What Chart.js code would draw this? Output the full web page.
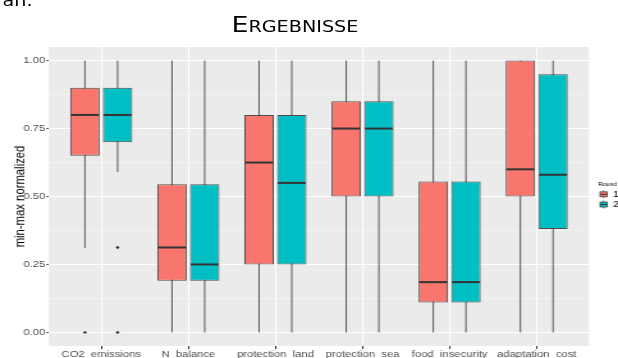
<!DOCTYPE html>
<html>
<head>
<meta charset="utf-8">
<script src="https://cdn.jsdelivr.net/npm/chart.js@4.4.1/dist/chart.umd.min.js"></script>
<style>
  html, body { margin: 0; padding: 0; background: #ffffff; overflow: hidden; }
  /* the slide is laid out narrow and widened horizontally as a whole */
  #page { position: absolute; left: 0; top: 0; width: 483px; height: 358px;
          transform: scaleX(1.2795); transform-origin: 0 0; }
  #lead { position: absolute; left: 2px; top: -6.5px; font: 15px/15px "DejaVu Sans", sans-serif;
          color: #000; white-space: nowrap; }
  #title { position: absolute; left: 130px; width: 201px; top: 14.5px; text-align: center;
           font: 21px/21px "DejaVu Sans", sans-serif; font-variant: small-caps; color: #000; }
  canvas { position: absolute; left: 0; top: 0; }
</style>
</head>
<body>
<div id="page">
  <div id="lead">an.</div>
  <div id="title">Ergebnisse</div>
  <canvas id="c" width="483" height="358"></canvas>
</div>
<script>
// Categories and five-number summaries per round
const categories = ['CO2  emissions', 'N  balance', 'protection  land', 'protection  sea', 'food  insecurity', 'adaptation  cost'];
const roundLabels = ['1', '2'];
const roundColors = ['#F8766D', '#00BFC4'];

const round1Min      = [0.31, 0.00, 0.00, 0.00, 0.00, 0.00];
const round1Q1       = [0.65, 0.19, 0.25, 0.50, 0.11, 0.50];
const round1Median   = [0.80, 0.3125, 0.625, 0.75, 0.185, 0.60];
const round1Q3       = [0.90, 0.545, 0.80, 0.85, 0.555, 1.00];
const round1Max      = [1.00, 1.00, 1.00, 1.00, 1.00, 1.00];
const round1Outliers = [[0.00], [], [], [], [], []];

const round2Min      = [0.59, 0.00, 0.00, 0.00, 0.00, 0.00];
const round2Q1       = [0.70, 0.19, 0.25, 0.50, 0.11, 0.38];
const round2Median   = [0.80, 0.25, 0.55, 0.75, 0.185, 0.58];
const round2Q3       = [0.90, 0.545, 0.80, 0.85, 0.555, 0.95];
const round2Max      = [1.00, 1.00, 1.00, 1.00, 1.00, 1.00];
const round2Outliers = [[0.3125, 0.00], [], [], [], [], []];

const yMajorTicks = [0, 0.25, 0.5, 0.75, 1];
const yTickLabels = ['0.00', '0.25', '0.50', '0.75', '1.00'];
const yMinorTicks = [0.125, 0.375, 0.625, 0.875];

const FONT = '"Liberation Sans", Arial, sans-serif';
const OUTLINE = 'rgba(51,51,51,0.85)';

function boxDataset(label, color, lo, q1, med, q3, hi, outliers) {
  return {
    label: label,
    backgroundColor: color,
    borderColor: OUTLINE,
    borderWidth: 1,
    borderSkipped: false,
    data: categories.map((_, i) => ({ x: i, y: [q1[i], q3[i]] })),
    whiskerLow: lo,
    whiskerHigh: hi,
    medians: med,
    outliers: outliers
  };
}

const isMajor = v => yMajorTicks.indexOf(v) >= 0;

// Panel background, whiskers, medians, outliers and the legend
const boxParts = {
  id: 'boxParts',
  beforeDraw(chart) {
    const { ctx, chartArea: a } = chart;
    ctx.save();
    ctx.fillStyle = '#EBEBEB';
    ctx.fillRect(a.left, a.top, a.right - a.left, a.bottom - a.top);
    ctx.restore();
  },
  beforeDatasetsDraw(chart) {
    const ctx = chart.ctx, ys = chart.scales.y;
    ctx.save();
    ctx.strokeStyle = 'rgba(51,51,51,0.8)';
    ctx.lineWidth = 1;
    chart.data.datasets.forEach((ds, d) => {
      chart.getDatasetMeta(d).data.forEach((el, i) => {
        ctx.beginPath();
        ctx.moveTo(el.x, ys.getPixelForValue(ds.whiskerLow[i]));
        ctx.lineTo(el.x, ys.getPixelForValue(ds.whiskerHigh[i]));
        ctx.stroke();
      });
    });
    ctx.restore();
  },
  afterDatasetsDraw(chart) {
    const ctx = chart.ctx, ys = chart.scales.y;
    ctx.save();
    chart.data.datasets.forEach((ds, d) => {
      chart.getDatasetMeta(d).data.forEach((el, i) => {
        const half = el.width / 2;
        const my = ys.getPixelForValue(ds.medians[i]);
        ctx.strokeStyle = '#333333';
        ctx.lineWidth = 2;
        ctx.beginPath();
        ctx.moveTo(el.x - half + 0.5, my);
        ctx.lineTo(el.x + half - 0.5, my);
        ctx.stroke();
        ctx.fillStyle = '#222222';
        ds.outliers[i].forEach(v => {
          ctx.beginPath();
          ctx.arc(el.x, ys.getPixelForValue(v), 1.2, 0, Math.PI * 2);
          ctx.fill();
        });
      });
    });
    ctx.restore();
  },
  afterDraw(chart) {
    const ctx = chart.ctx;
    ctx.save();
    ctx.textAlign = 'left';
    ctx.textBaseline = 'middle';
    ctx.fillStyle = '#000000';
    ctx.font = '5px ' + FONT;
    ctx.fillText('Round', 467.4, 184.4);
    chart.data.datasets.forEach((ds, k) => {
      const cy = 194.3 + 10.2 * k;
      const x0 = 469, x1 = 474.5, xm = (x0 + x1) / 2;
      ctx.strokeStyle = OUTLINE;
      ctx.lineWidth = 0.8;
      ctx.beginPath();
      ctx.moveTo(xm, cy - 4); ctx.lineTo(xm, cy - 2.5);
      ctx.moveTo(xm, cy + 2.5); ctx.lineTo(xm, cy + 4);
      ctx.stroke();
      ctx.fillStyle = ds.backgroundColor;
      ctx.fillRect(x0, cy - 2.5, x1 - x0, 5);
      ctx.strokeRect(x0, cy - 2.5, x1 - x0, 5);
      ctx.strokeStyle = '#333333';
      ctx.lineWidth = 1;
      ctx.beginPath();
      ctx.moveTo(x0, cy); ctx.lineTo(x1, cy);
      ctx.stroke();
      ctx.fillStyle = '#000000';
      ctx.font = '8.8px ' + FONT;
      ctx.fillText(ds.label, 479, cy + 0.3);
    });
    ctx.restore();
  }
};

new Chart(document.getElementById('c'), {
  type: 'bar',
  data: {
    datasets: [
      boxDataset(roundLabels[0], roundColors[0], round1Min, round1Q1, round1Median, round1Q3, round1Max, round1Outliers),
      boxDataset(roundLabels[1], roundColors[1], round2Min, round2Q1, round2Median, round2Q3, round2Max, round2Outliers)
    ]
  },
  plugins: [boxParts],
  options: {
    responsive: false,
    animation: false,
    events: [],
    layout: { padding: { left: 0, top: 47, right: 22.7, bottom: 0 } },
    datasets: { bar: { categoryPercentage: 0.75, barPercentage: 0.9 } },
    plugins: { legend: { display: false }, tooltip: { enabled: false }, title: { display: false } },
    scales: {
      x: {
        type: 'linear',
        min: -0.6,
        max: 5.6,
        offset: false,
        border: { display: false },
        grid: { offset: false, color: '#FFFFFF', lineWidth: 1, tickLength: 3, tickColor: '#333333', tickWidth: 1 },
        afterBuildTicks: axis => { axis.ticks = categories.map((_, i) => ({ value: i })); },
        afterFit: axis => { axis.height = 12; },
        ticks: {
          autoSkip: false, maxRotation: 0, minRotation: 0, padding: 0,
          color: '#4D4D4D', font: { size: 8.8, family: FONT },
          callback: v => categories[v] ?? ''
        }
      },
      y: {
        type: 'linear',
        min: -0.05,
        max: 1.05,
        border: { display: false },
        grid: {
          color: c => (c.tick && isMajor(c.tick.value)) ? '#FFFFFF' : 'rgba(255,255,255,0.75)',
          lineWidth: c => (c.tick && isMajor(c.tick.value)) ? 1.1 : 0.55,
          tickLength: 2,
          tickWidth: 1,
          tickColor: c => (c.tick && isMajor(c.tick.value)) ? '#333333' : 'rgba(0,0,0,0)'
        },
        afterBuildTicks: axis => {
          axis.ticks = yMajorTicks.concat(yMinorTicks).sort((a, b) => a - b).map(v => ({ value: v }));
        },
        afterFit: axis => { axis.width = 38.3; },
        ticks: {
          autoSkip: false, padding: 1,
          color: '#4D4D4D', font: { size: 8.8, family: FONT },
          callback: v => { const k = yMajorTicks.indexOf(v); return k >= 0 ? yTickLabels[k] : ''; }
        },
        title: {
          display: true, text: 'min-max normalized', color: '#000000',
          font: { size: 11.3, family: FONT }, padding: { top: 8.8, bottom: 0 }
        }
      }
    }
  }
});
</script>
</body>
</html>
